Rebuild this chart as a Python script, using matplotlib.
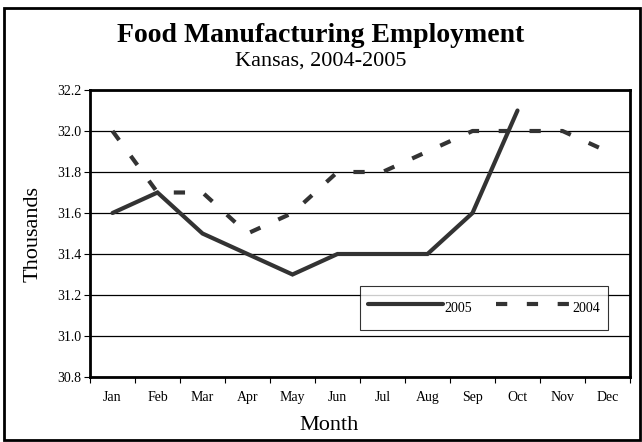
import matplotlib.pyplot as plt
import numpy as np
from matplotlib.patches import Rectangle

months = ["Jan", "Feb", "Mar", "Apr", "May", "Jun",
          "Jul", "Aug", "Sep", "Oct", "Nov", "Dec"]
emp_2005 = [31.6, 31.7, 31.5, 31.4, 31.3, 31.4, 31.4, 31.4, 31.6, 32.1]
emp_2004 = [32.0, 31.7, 31.7, 31.5, 31.6, 31.8, 31.8, 31.9, 32.0, 32.0, 32.0, 31.9]
y_ticks = [30.8, 31.0, 31.2, 31.4, 31.6, 31.8, 32.0, 32.2]

plt.rcParams['font.family'] = ['Liberation Serif', 'DejaVu Serif']

fig = plt.figure(figsize=(6.42, 4.42), dpi=100)
W, H = 642, 442
ax = fig.add_axes([90 / W, 1 - 377 / H, 540 / W, 287 / H])

# outer frame around the whole chart
fig.patches.append(Rectangle((4 / W, 2 / H), 636 / W, 432 / H, transform=fig.transFigure,
                             fill=False, edgecolor='black', linewidth=2))

line_color = '#333333'
x05 = np.arange(len(emp_2005))
x04 = np.arange(len(emp_2004))
ax.plot(x05, emp_2005, color=line_color, lw=3.0, solid_capstyle='round',
        solid_joinstyle='miter', label='2005', zorder=3)
ax.plot(x04, emp_2004, color=line_color, lw=3.0, dashes=(2.7, 4.7),
        dash_capstyle='butt', label='2004', zorder=3)

ax.set_xlim(-0.5, len(months) - 0.5)
ax.set_ylim(30.8, 32.2)
ax.set_yticks(y_ticks)
ax.set_yticklabels([f"{v:.1f}" for v in y_ticks], fontsize=10)
ax.yaxis.grid(True, color='black', lw=0.9)
ax.set_axisbelow(True)

# category ticks sit between months, labels centered
ax.set_xticks(np.arange(len(months) + 1) - 0.5)
ax.set_xticklabels([])
ax.set_xticks(np.arange(len(months)), minor=True)
ax.set_xticklabels(months, minor=True, fontsize=10)
ax.tick_params(axis='x', which='minor', length=0, pad=10)
ax.tick_params(axis='x', which='major', length=4, width=0.8)
ax.tick_params(axis='y', length=4, width=0.8, pad=2)

for s in ax.spines.values():
    s.set_linewidth(2)

ax.set_xlabel("Month", fontsize=16)
ax.xaxis.set_label_coords((329 - 90) / 540, (377 - 425) / 287)
ax.xaxis.label.set_va('center')
ax.set_ylabel("Thousands", fontsize=16)
ax.yaxis.set_label_coords((33 - 90) / 540, 0.5)
ax.yaxis.label.set_va('center')

fig.text(0.5, 1 - 35 / H, "Food Manufacturing Employment", ha='center', va='center',
         fontsize=20, fontweight='bold')
fig.text(0.5, 1 - 61 / H, "Kansas, 2004-2005", ha='center', va='center', fontsize=16)

leg = ax.legend(loc='lower left', bbox_to_anchor=(270 / 540, 47 / 287, 248 / 540, 45 / 287),
                mode='expand', ncol=2, fontsize=10, frameon=True, fancybox=False,
                handlelength=5.4, handleheight=2.6, handletextpad=0.1,
                columnspacing=1.3, borderpad=0.6, borderaxespad=0)
leg.get_frame().set_edgecolor('black')
leg.get_frame().set_linewidth(0.8)

fig.savefig("out.png", dpi=100)
